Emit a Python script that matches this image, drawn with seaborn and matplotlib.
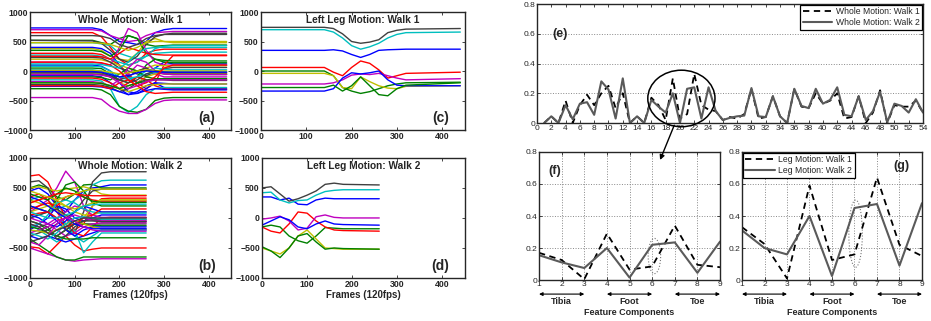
import numpy
import pandas
import matplotlib
matplotlib.use('Agg')
import matplotlib.pyplot as plt
from matplotlib.patches import Ellipse, ConnectionPatch
import seaborn as sns

# matlab default colour order: b g r c m y k
matlabColors = [(0, 0, 1), (0, 0.5, 0), (1, 0, 0), (0, 0.75, 0.75),
                (0.75, 0, 0.75), (0.75, 0.75, 0), (0.25, 0.25, 0.25)]

# ---------------- (a) whole motion walk 1 ----------------
framesA = [0, 140, 160, 180, 200, 220, 240, 260, 280, 300, 320, 440]
linesA = [
    [730, 730, 700, 600, 500, 480, 450, 500, 650, 700, 720, 720],
    [520, 520, 480, 450, 550, 600, 550, 450, 420, 430, 440, 440],
    [650, 650, 580, 400, 200, 100, 150, 300, 350, 370, 370, 370],
    [480, 480, 460, 430, 300, 250, 200, 250, 300, 310, 320, 320],
    [700, 700, 680, 600, 550, 500, 520, 600, 650, 660, 670, 670],
    [380, 380, 350, 250, 200, 180, 300, 500, 550, 500, 480, 480],
    [520, 510, 470, 350, 200, 150, 250, 450, 580, 620, 640, 640],
    [400, 400, 380, 300, 100, -100, -200, -100, 50, 150, 120, 120],
    [350, 350, 330, 250, 350, 600, 550, 300, 200, 150, 140, 140],
    [300, 300, 280, 200, 100, -50, -200, -300, -200, 100, 260, 260],
    [270, 270, 250, 200, 150, 100, 150, 250, 380, 420, 430, 430],
    [150, 150, 130, 100, 400, 720, 650, 350, 150, 100, 100, 100],
    [200, 200, 190, 150, 100, 50, 0, 50, 100, 90, 90, 90],
    [230, 230, 220, 150, 50, 0, -50, -80, -20, 40, 60, 60],
    [100, 100, 80, 0, -200, -350, -380, -300, -200, -280, -300, -300],
    [50, 50, 40, -50, -150, -200, -100, 100, 200, 180, 170, 170],
    [250, 250, 240, 200, 300, 400, 350, 300, 280, 270, 270, 270],
    [80, 80, 70, 0, -100, -150, -100, 0, 50, 30, 20, 20],
    [0, 0, -20, -100, -150, -50, 100, 50, -50, -100, -100, -100],
    [-30, -30, -40, -100, -200, -250, -200, -100, -50, -40, -40, -40],
    [-50, -50, -60, -100, -150, -100, 0, 50, -20, -50, -60, -60],
    [-80, -80, -100, -200, -300, -400, -350, -250, -200, -210, -220, -220],
    [-100, -100, -110, -150, -50, 50, 0, -100, -130, -130, -130, -130],
    [-120, -120, -140, -200, -300, -200, -100, -150, -250, -300, -310, -310],
    [-150, -150, -170, -300, -600, -700, -600, -400, -300, -280, -280, -280],
    [-180, -180, -200, -250, -150, 50, 200, 150, 0, -50, -60, -60],
    [-200, -200, -210, -250, -300, -350, -300, -250, -230, -220, -220, -220],
    [-230, -230, -240, -280, -350, -300, -200, -150, -140, -150, -160, -160],
    [-260, -260, -270, -300, -350, -400, -380, -330, -300, -310, -320, -320],
    [-300, -300, -320, -400, -600, -680, -700, -650, -500, -460, -450, -450],
    [-250, -250, -260, -300, -200, -150, -250, -350, -380, -370, -360, -360],
    [20, 20, 0, -50, -100, -120, -100, -50, -20, -10, -10, -10],
    [-450, -450, -480, -600, -680, -720, -720, -650, -550, -500, -490, -490],
    [10, 10, 0, -20, -50, -30, 0, 20, 10, 0, 0, 0],
    [-20, -20, -30, -80, -150, -200, -150, -50, 0, -20, -30, -30],
    [-10, -10, -20, -60, -100, -80, -30, 0, -10, -20, -20, -20],
    [-200, -200, -210, -250, -300, -250, -200, -180, -150, -140, -140, -140],
    [150, 150, 140, 100, 0, -150, -250, -200, -100, 50, 100, 100],
    [120, 120, 110, 80, 50, 150, 300, 380, 400, 400, 400, 400],
    [-60, -60, -70, -100, -200, -300, -250, -180, -150, -150, -150, -150],
    [480, 480, 470, 450, 400, 350, 400, 480, 500, 500, 500, 500],
    [600, 600, 590, 550, 450, 400, 450, 550, 600, 620, 620, 620],
]

# ---------------- (b) whole motion walk 2 ----------------
framesB = [0, 20, 40, 60, 80, 100, 120, 140, 160, 180, 260]
linesB = [
    [450, 500, 400, 200, 100, 300, 450, 500, 520, 550, 550],
    [500, 550, 500, 350, 300, 400, 550, 560, 500, 500, 500],
    [700, 720, 600, 300, 0, -200, -100, 200, 320, 330, 330],
    [300, 350, 300, 150, 200, 300, 400, 550, 620, 630, 630],
    [100, 200, 300, 500, 780, 600, 200, 0, -50, -50, -50],
    [500, 520, 480, 450, 480, 500, 520, 480, 400, 380, 380],
    [600, 620, 500, 200, -200, -250, 100, 600, 750, 770, 770],
    [-200, -100, 0, 200, 150, 0, -50, 0, 50, 50, 50],
    [200, 150, 100, 300, 550, 600, 450, 250, 200, 200, 200],
    [-480, -500, -600, -450, -300, -450, -550, -520, -500, -500, -500],
    [-100, -200, -300, -400, -300, -200, -580, -400, -250, -250, -250],
    [-500, -550, -600, -650, -700, -720, -700, -690, -680, -680, -680],
    [100, 150, 200, 250, 200, 100, 50, 50, 100, 100, 100],
    [-300, -250, -200, -100, 0, 100, 300, 450, 480, 480, 480],
    [-300, -350, -300, -350, -400, -350, -300, -250, -200, -200, -200],
    [-350, -450, -550, -650, -700, -700, -650, -650, -650, -650, -650],
    [350, 400, 300, 100, -100, -250, -300, -150, 0, 10, 10],
    [0, 50, 100, 0, -100, -300, -400, -300, -200, -200, -200],
    [-100, -150, -100, 0, 100, 200, 150, 50, 10, 10, 10],
    [300, 250, 200, 150, 0, -100, 0, 200, 300, 300, 300],
    [0, 50, 100, 150, 50, -50, -100, -100, -100, -100, -100],
    [50, 0, -100, -150, -50, 100, 200, 150, 100, 100, 100],
    [-50, -100, -200, -300, -200, -100, -100, -120, -130, -130, -130],
    [150, 200, 250, 200, 350, 400, 350, 300, 280, 280, 280],
    [-150, -100, 50, 250, 300, 250, 150, 100, 80, 80, 80],
    [0, -50, -100, -200, -300, -250, -150, -100, -80, -80, -80],
    [250, 300, 350, 300, 200, 150, 200, 250, 300, 300, 300],
    [-50, -100, -150, -350, -300, -150, -50, -20, -20, -20, -20],
    [200, 150, 100, -50, -200, -300, -200, -150, -150, -150, -150],
    [-150, -180, -250, -300, -350, -350, -350, -330, -330, -330, -330],
    [50, 80, 100, 0, -150, -100, 0, 50, 150, 150, 150],
    [100, 50, 0, 0, 50, 100, 200, 220, 230, 230, 230],
    [-250, -200, -150, -50, 0, 50, 0, -40, -50, -50, -50],
    [-200, -220, -250, -200, -100, -50, -100, -150, -180, -180, -180],
    [-100, -150, -250, -300, -200, -100, -50, -50, -60, -60, -60],
    [350, 300, 200, 100, 0, -100, -150, -180, -180, -180, -180],
    [400, 350, 300, 400, 500, 450, 350, 280, 260, 260, 260],
    [250, 300, 350, 400, 420, 400, 380, 370, 370, 370, 370],
    [-250, -300, -350, -250, -100, 0, 20, 0, -20, -20, -20],
    [-400, -450, -300, -100, 0, -50, -150, -200, -220, -220, -220],
    [450, 400, 350, 300, 350, 400, 450, 480, 480, 480, 480],
    [-400, -350, -300, -200, -150, -50, 0, 0, 0, 0, 0],
]

# ---------------- (c) left leg walk 1 ----------------
framesC = [0, 140, 160, 180, 200, 220, 240, 260, 280, 300, 320, 440]
linesC = [
    [350, 350, 360, 340, 280, 230, 280, 350, 360, 365, 370, 370],
    [0, 0, -80, -280, -340, -380, -350, -300, -250, -220, -200, -190],
    [60, 60, -20, -80, 60, 170, 130, 20, -120, -80, -40, -20],
    [700, 700, 660, 560, 430, 370, 410, 470, 560, 620, 650, 660],
    [-220, -220, -200, -150, -70, -50, -60, -40, -80, -120, -150, -130],
    [-40, -40, -80, -280, -300, -100, -180, -250, -290, -300, -260, -250],
    [740, 740, 720, 630, 500, 470, 490, 530, 650, 690, 710, 720],
    [-340, -340, -300, -120, -30, -50, -30, 0, -150, -240, -250, -250],
    [-280, -280, -240, -340, -250, -100, -250, -400, -420, -300, -240, -200],
]

# ---------------- (d) left leg walk 2 ----------------
framesD = [0, 20, 40, 60, 80, 100, 120, 140, 160, 180, 260]
linesD = [
    [350, 350, 300, 330, 230, 220, 300, 330, 320, 320, 320],
    [-150, -120, -150, -300, -380, -420, -300, -160, -170, -180, -180],
    [-150, -220, -250, -100, 100, 80, -50, -150, -200, -210, -220],
    [420, 430, 300, 250, 290, 300, 380, 440, 460, 470, 470],
    [-20, 0, 30, -50, -200, -170, 20, 50, 10, 0, 0],
    [-500, -550, -600, -500, -300, -200, -350, -500, -510, -520, -520],
    [500, 520, 400, 280, 320, 380, 450, 560, 580, 560, 550],
    [-120, -50, 20, -30, -150, -180, -100, -50, -100, -110, -120],
    [-480, -550, -660, -500, -300, -260, -400, -520, -500, -510, -520],
]

# ---------------- (e) whole motion distances ----------------
featE = list(range(1, 55))
wholeWalk1 = [0, 0.045, 0, 0.15, 0, 0.12, 0.19, 0.12, 0.2, 0.25,
              0.1, 0.2, 0, 0.045, 0, 0.17, 0.12, 0.02, 0.3, 0.03,
              0.06, 0.33, 0.12, 0.09, 0.08, 0.02, 0.04, 0.03, 0.06, 0.23,
              0.03, 0.04, 0.18, 0.045, 0, 0.23, 0.11, 0.1, 0.2, 0.13,
              0.15, 0.2, 0.03, 0.04, 0.18, 0.0, 0.07, 0.22, 0.0, 0.12,
              0.11, 0.11, 0.15, 0.07]
wholeWalk2 = [0, 0.045, 0, 0.12, 0.025, 0.13, 0.14, 0.055, 0.28, 0.225,
              0.03, 0.30, 0, 0.045, 0, 0.155, 0.11, 0.07, 0.2, 0,
              0.23, 0.24, 0.03, 0.24, 0.08, 0.02, 0.035, 0.045, 0.05, 0.235,
              0.045, 0.04, 0.18, 0.045, 0, 0.23, 0.115, 0.1, 0.23, 0.13,
              0.155, 0.24, 0.055, 0.045, 0.18, 0.02, 0.08, 0.21, 0.005, 0.13,
              0.115, 0.07, 0.16, 0.07]

# ---------------- (f), (g) leg features ----------------
featLeg = list(range(1, 10))
fWalk1 = [0.17, 0.125, 0.005, 0.29, 0.065, 0.085, 0.34, 0.095, 0.08]
fWalk2 = [0.155, 0.11, 0.075, 0.2, 0.015, 0.22, 0.235, 0.045, 0.24]
gWalk1 = [0.33, 0.225, 0.01, 0.59, 0.125, 0.16, 0.64, 0.22, 0.15]
gWalk2 = [0.31, 0.2, 0.16, 0.4, 0.025, 0.45, 0.475, 0.09, 0.48]
legParts = ['Tibia', 'Foot', 'Toe']
legSpans = [(1, 3), (4, 6), (7, 9)]

sns.set_style('ticks')
plt.rcParams['font.family'] = ['Liberation Sans', 'DejaVu Sans']
plt.rcParams['xtick.direction'] = 'in'
plt.rcParams['ytick.direction'] = 'in'
plt.rcParams['xtick.top'] = True
plt.rcParams['ytick.right'] = True
plt.rcParams['xtick.major.size'] = 2.5
plt.rcParams['ytick.major.size'] = 2.5
plt.rcParams['axes.linewidth'] = 1.0


def drawMotion(ax, frames, lines, title, label, xlabel=None):
    rows = []
    for i, vals in enumerate(lines):
        for f, v in zip(frames, vals):
            rows.append((i, f, v))
    df = pandas.DataFrame(rows, columns=['line', 'frame', 'value'])
    pal = [matlabColors[i % 7] for i in range(len(lines))]
    sns.lineplot(data=df, x='frame', y='value', hue='line', palette=pal,
                 estimator=None, sort=False, legend=False, linewidth=1.0, ax=ax)
    ax.set_xlim(0, 450)
    ax.set_ylim(-1000, 1000)
    ax.set_xticks([0, 100, 200, 300, 400])
    ax.set_yticks([-1000, -500, 0, 500, 1000])
    ax.tick_params(labelsize=6.3, width=0.6, pad=1.5)
    for t in ax.get_xticklabels() + ax.get_yticklabels():
        t.set_fontweight('bold')
    ax.set_ylabel('')
    if xlabel:
        ax.set_xlabel(xlabel, fontsize=7, fontweight='bold', labelpad=1)
    else:
        ax.set_xlabel('')
    ax.text(0.5, 0.93, title, transform=ax.transAxes, ha='center', va='center',
            fontsize=7.3, fontweight='bold')
    ax.text(0.88, 0.1, label, transform=ax.transAxes, ha='center', va='center',
            fontsize=10, fontweight='bold')


def drawDistance(ax, x, walk1, walk2, names, legendLoc):
    df = pandas.DataFrame({'feat': x, 'w1': walk1, 'w2': walk2})
    sns.lineplot(data=df, x='feat', y='w1', color='black', linestyle='--',
                 linewidth=1.3, ax=ax, label=names[0])
    sns.lineplot(data=df, x='feat', y='w2', color='#5a5a5a', linewidth=1.5,
                 ax=ax, label=names[1])
    ax.lines[0].set_dashes([3.5, 2.5])
    ax.set_ylim(0, 0.8)
    ax.set_yticks([0, 0.2, 0.4, 0.6, 0.8])
    ax.set_yticklabels(['0', '0.2', '0.4', '0.6', '0.8'])
    ax.tick_params(labelsize=6, width=0.6, pad=1.5)
    ax.set_ylabel('')
    ax.set_xlabel('')
    leg = ax.legend(loc=legendLoc, fontsize=6.2, frameon=True, fancybox=False,
                    borderpad=0.3, labelspacing=0.2, handlelength=3.4,
                    handletextpad=0.4, borderaxespad=0.1)
    leg.get_frame().set_edgecolor('black')
    leg.get_frame().set_linewidth(0.9)
    leg.get_frame().set_alpha(1)


fig = plt.figure(figsize=(9.31, 3.21), dpi=100)
axA = fig.add_axes([0.0322, 0.595, 0.216, 0.3676])
axC = fig.add_axes([0.2803, 0.595, 0.219, 0.3676])
axB = fig.add_axes([0.0322, 0.134, 0.216, 0.374])
axD = fig.add_axes([0.2814, 0.134, 0.218, 0.374])
axE = fig.add_axes([0.5768, 0.6168, 0.4146, 0.3707])
axF = fig.add_axes([0.579, 0.1277, 0.1944, 0.3988])
axG = fig.add_axes([0.797, 0.1277, 0.1933, 0.3988])

drawMotion(axA, framesA, linesA, 'Whole Motion: Walk 1', '(a)')
drawMotion(axB, framesB, linesB, 'Whole Motion: Walk 2', '(b)', 'Frames (120fps)')
drawMotion(axC, framesC, linesC, 'Left Leg Motion: Walk 1', '(c)')
drawMotion(axD, framesD, linesD, 'Left Leg Motion: Walk 2', '(d)', 'Frames (120fps)')

# (e)
drawDistance(axE, featE, wholeWalk1, wholeWalk2,
             ['Whole Motion: Walk 1', 'Whole Motion: Walk 2'], 'upper right')
axE.set_xlim(0, 54)
axE.set_xticks(range(0, 55, 2))
axE.yaxis.grid(True, linestyle=':', color='#888888', linewidth=0.7)
axE.set_axisbelow(True)
axE.text(3.2, 0.6, '(e)', fontsize=9, fontweight='bold', ha='center', va='center')
axE.add_patch(Ellipse((20.2, 0.165), 9.4, 0.38, fill=False, edgecolor='black',
                      linewidth=1.1, clip_on=False, zorder=5))

# (f) and (g)
drawDistance(axF, featLeg, fWalk1, fWalk2, ['Leg Motion: Walk 1', 'Leg Motion: Walk 2'],
             'upper left')
axF.get_legend().remove()
drawDistance(axG, featLeg, gWalk1, gWalk2, ['Leg Motion: Walk 1', 'Leg Motion: Walk 2'],
             'upper left')
axF.text(1.7, 0.68, '(f)', fontsize=9, fontweight='bold', ha='center', va='center')
axG.text(8.1, 0.71, '(g)', fontsize=9, fontweight='bold', ha='center', va='center')
axF.add_patch(Ellipse((6.1, 0.15), 0.55, 0.22, fill=False, edgecolor='#777777',
                      linestyle=':', linewidth=0.8))
axG.add_patch(Ellipse((6.05, 0.29), 0.6, 0.42, fill=False, edgecolor='#777777',
                      linestyle=':', linewidth=0.8))
for ax in [axF, axG]:
    ax.set_xlim(1, 9)
    ax.set_xticks(featLeg)
    ax.grid(True, linestyle=':', color='#888888', linewidth=0.7)
    ax.set_axisbelow(True)
    ax.tick_params(axis='x', pad=1)
    trans = ax.get_xaxis_transform()
    for part, (x0, x1) in zip(legParts, legSpans):
        ax.annotate('', xy=(x0, -0.11), xytext=(x1, -0.11), xycoords=trans,
                    textcoords=trans, annotation_clip=False,
                    arrowprops=dict(arrowstyle='<|-|>', color='black', lw=0.8,
                                    mutation_scale=5, shrinkA=0, shrinkB=0))
        ax.text((x0 + x1) / 2, -0.17, part, transform=trans, ha='center', va='center',
                fontsize=6.5, fontweight='bold')
    ax.text(5, -0.25, 'Feature Components', transform=trans, ha='center', va='center',
            fontsize=6.5, fontweight='bold')

# arrow from the circled area in (e) down to (f)
con = ConnectionPatch(xyA=(19.2, -0.015), coordsA=axE.transData,
                      xyB=(6.35, 0.75), coordsB=axF.transData,
                      arrowstyle='-|>', color='black', linewidth=1.0, mutation_scale=7)
fig.add_artist(con)

fig.savefig('out.png', dpi=100)
